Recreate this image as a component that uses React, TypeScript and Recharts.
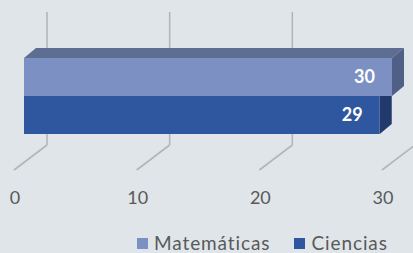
import { BarChart, Bar, XAxis, YAxis, CartesianGrid, LabelList } from 'recharts'

const categories = ['Resultados']
const matematicas = [30]
const ciencias = [29]
const xTicks = [0, 10, 20, 30]
const seriesNames = ['Matemáticas', 'Ciencias']
const seriesKeys = ['mat', 'cie']
const frontColors = ['#7d90c4', '#2f57a0']
const topColors = ['#5e6e93', '#283f72']
const sideColors = ['#4f5f86', '#213a6b']

const data = categories.map((name, i) => ({ name, mat: matematicas[i], cie: ciencias[i] }))

const FONT = 'Lato, "Open Sans", sans-serif'
const DX = 12
const DY = 10
const SHIFT = 9

function Bar3D(props: any) {
  const { x, y, width, height, fill, topFill, sideFill, isTop } = props
  const x0 = x + SHIFT
  const x1 = x0 + width
  const y1 = y + height
  return (
    <g>
      {isTop && (
        <polygon points={`${x0},${y} ${x0 + DX},${y - DY} ${x1 + DX},${y - DY} ${x1},${y}`} fill={topFill} />
      )}
      {isTop ? (
        <polygon points={`${x1},${y} ${x1 + DX},${y - DY} ${x1 + DX},${y1 - DY} ${x1},${y1}`} fill={sideFill} />
      ) : (
        <polygon points={`${x1},${y} ${x1 + DX},${y} ${x1 + DX},${y1 - DY} ${x1},${y1}`} fill={sideFill} />
      )}
      <rect x={x0} y={y} width={width} height={height} fill={fill} />
    </g>
  )
}

function GridLine3D(props: any) {
  const { x1, index } = props
  return (
    <g key={`g-${index}`}>
      <line x1={x1 + 32} y1={12} x2={x1 + 32} y2={145} stroke="#b1b6bb" strokeWidth={1.6} />
      <line x1={x1 + 32} y1={145} x2={x1 - 1} y2={170} stroke="#b1b6bb" strokeWidth={1.6} />
    </g>
  )
}

function ValueLabel(props: any) {
  const { x, y, width, height, value } = props
  return (
    <text
      x={x + SHIFT + width - 17}
      y={y + height / 2}
      dy="0.36em"
      textAnchor="end"
      fill="#ffffff"
      fontFamily={FONT}
      fontWeight={700}
      fontSize={18}
    >
      {value}
    </text>
  )
}

function Tick(props: any) {
  const { x, y, payload } = props
  return (
    <text x={x} y={y} dy="0.36em" textAnchor="middle" fill="#595959" fontFamily={FONT} fontSize={18}>
      {payload.value}
    </text>
  )
}

export default function App() {
  return (
    <div style={{ position: 'fixed', left: 0, top: 0, width: 413, height: 253, background: '#dfe5e9', overflow: 'hidden' }}>
      <BarChart
        width={413}
        height={253}
        data={data}
        layout="vertical"
        margin={{ top: 58, right: 30, bottom: 99, left: 15 }}
        barCategoryGap={0}
        barGap={0}
      >
        <CartesianGrid horizontal={false} vertical={(p: any) => <GridLine3D {...p} />} />
        <XAxis
          type="number"
          domain={[0, 30]}
          ticks={xTicks}
          axisLine={false}
          tickLine={false}
          tickSize={0}
          tickMargin={64}
          height={20}
          tick={<Tick />}
        />
        <YAxis type="category" dataKey="name" hide />
        {seriesKeys.map((k, i) => (
          <Bar
            key={k}
            dataKey={k}
            name={seriesNames[i]}
            fill={frontColors[i]}
            isAnimationActive={false}
            shape={(p: any) => <Bar3D {...p} topFill={topColors[i]} sideFill={sideColors[i]} isTop={i === 0} />}
          >
            <LabelList dataKey={k} content={<ValueLabel />} />
          </Bar>
        ))}
      </BarChart>
      <div
        style={{
          position: 'absolute',
          left: 137,
          top: 234,
          display: 'flex',
          alignItems: 'center',
          fontFamily: FONT,
          fontSize: 19,
          letterSpacing: 0.9,
          lineHeight: '18px',
          color: '#595959',
          whiteSpace: 'nowrap',
        }}
      >
        {seriesNames.map((n, i) => (
          <span key={n} style={{ display: 'flex', alignItems: 'center', marginRight: i === 0 ? 24 : 0 }}>
            <span style={{ width: 11, height: 11, background: frontColors[i], marginRight: 6, display: 'inline-block' }} />
            {n}
          </span>
        ))}
      </div>
    </div>
  )
}
